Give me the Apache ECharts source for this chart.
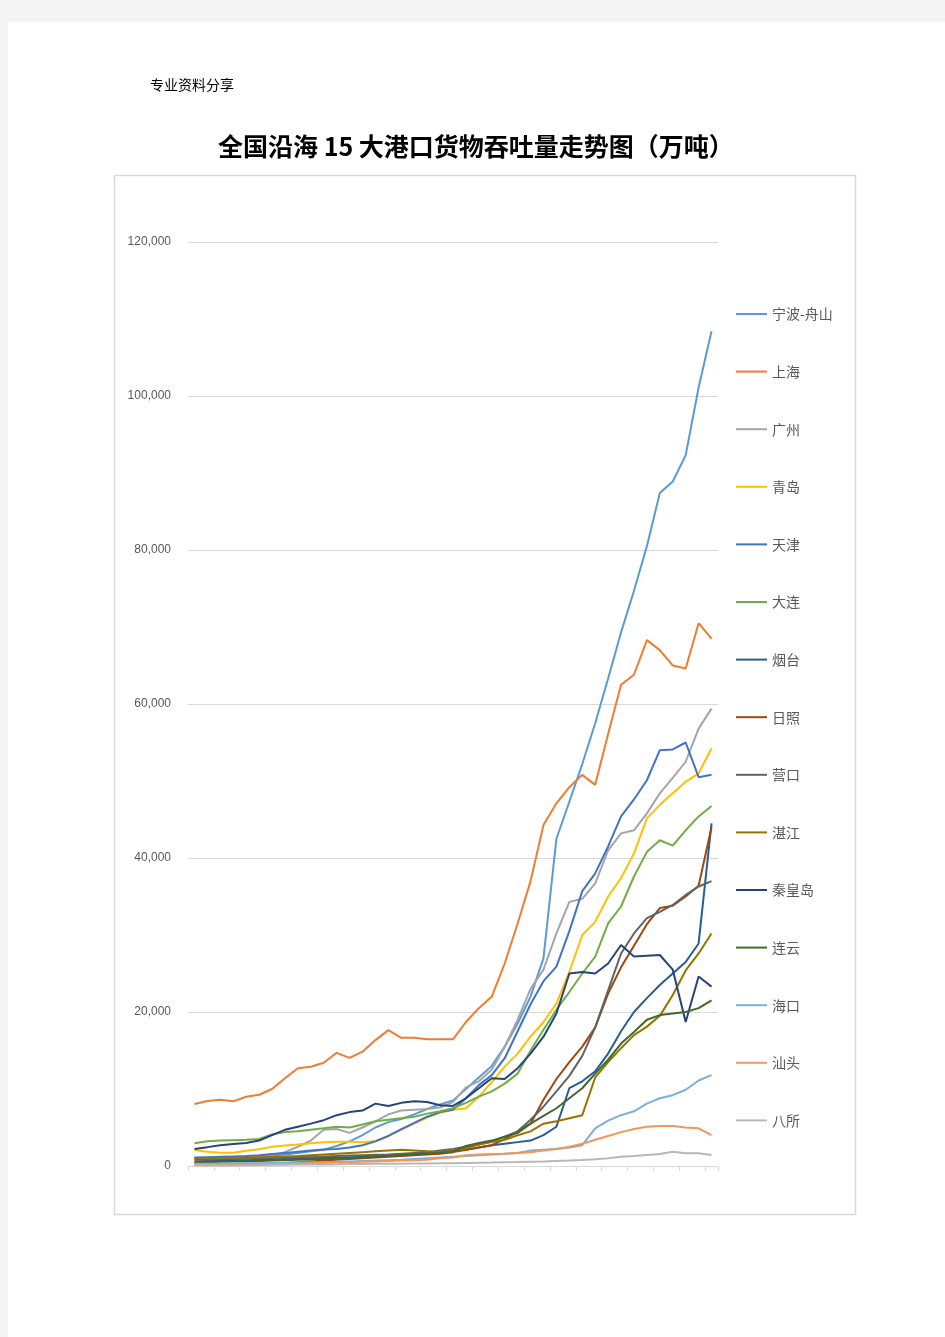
<!DOCTYPE html>
<html>
<head>
<meta charset="utf-8">
<script src="https://cdn.jsdelivr.net/npm/echarts@6/dist/echarts.min.js"></script>
<style>
html,body{margin:0;padding:0;background:#f4f4f4;}
#page{position:absolute;left:0;top:0;width:945px;height:1337px;}
</style>
</head>
<body>
<div id="page"></div>
<script>
// ---- data ----
const years = [];
for (let y = 1978; y <= 2018; y++) years.push(String(y));

const seriesNames = ['宁波-舟山','上海','广州','青岛','天津','大连','烟台','日照','营口','湛江','秦皇岛','连云','海口','汕头','八所'];
const seriesColors = ['#5B9BD5','#ED7D31','#A5A5A5','#FFC000','#4472C4','#70AD47','#255E91','#9E480E','#636363','#997300','#264478','#43682B','#7CAFDD','#F1975A','#B7B7B7'];

const ningbo = [1000,1050,1100,1150,1200,1300,1400,1500,1700,1900,2100,2600,3200,4000,5000,5700,6100,6700,7400,8000,8500,10000,11500,13000,15500,18500,22000,27000,42500,47300,52200,57500,63300,69300,74700,80500,87400,88900,92300,101100,108400];
const shanghai = [8050,8450,8600,8400,9000,9250,10000,11400,12700,12900,13400,14700,14050,14850,16350,17650,16650,16650,16450,16450,16450,18700,20500,22000,26300,31500,37000,44300,47100,49200,50800,49500,56100,62500,63800,68300,67000,65000,64600,70500,68500];
const guangzhou = [1000,1000,1050,1100,1150,1200,1400,1800,2500,3300,4700,4800,4300,5000,5800,6700,7200,7300,7400,7600,8300,10200,11000,12500,15500,19000,23000,25500,30200,34300,34700,36700,41000,43200,43600,45800,48400,50400,52500,56800,59400];
const qingdao = [2080,1860,1730,1730,1990,2170,2500,2650,2800,2950,3100,3150,3150,3100,3250,3900,4700,5500,6300,6900,7300,7500,9000,10900,12900,14600,16800,18700,21100,25200,30000,31700,35000,37400,40600,45150,46900,48400,49900,51000,54250];
const tianjin = [1100,1150,1200,1250,1300,1400,1550,1700,1850,2000,2150,2200,2400,2700,3200,3900,4800,5600,6400,7000,7300,8800,10500,11800,14000,17500,21000,24000,25900,30500,35700,38000,41500,45400,47600,50100,54000,54100,55000,50500,50800];
const dalian = [2950,3200,3300,3350,3400,3500,4100,4400,4500,4700,4900,5100,5000,5400,5800,6000,6200,6400,6800,7100,7500,8200,9000,9700,10700,12000,15000,17700,20300,22600,25000,27200,31500,33700,37600,40800,42300,41600,43600,45400,46750];
const yantai = [600,650,700,700,750,800,850,900,950,1000,1050,1100,1150,1200,1300,1400,1500,1600,1700,1800,1900,2100,2400,2700,2900,3100,3300,4000,5100,10100,11000,12300,14600,17500,20000,21800,23500,25000,26500,28900,44500];
const rizhao = [200,200,200,200,250,300,350,400,500,600,700,800,900,1000,1100,1200,1300,1400,1500,1600,1800,2100,2400,2700,3500,4500,5500,8600,11300,13500,15500,18000,22400,25800,28600,31400,33500,33800,35000,36400,44000];
const yingkou = [800,850,900,900,950,1000,1050,1100,1150,1200,1250,1300,1350,1400,1450,1500,1600,1700,1800,2000,2200,2500,2800,3200,3800,4500,6000,7700,9700,11700,14300,18000,22800,27600,30200,32200,33000,33900,35200,36300,37000];
const zhanjiang = [1000,1000,1050,1050,1100,1150,1200,1250,1300,1400,1500,1600,1700,1800,1900,2000,2100,2000,1900,1800,2000,2300,2800,3100,3400,4000,4500,5500,5800,6200,6600,11500,13500,15300,17000,18100,19500,22200,25400,27600,30200];
const qinhuangdao = [2210,2450,2700,2850,3000,3300,4000,4700,5100,5500,5950,6600,7000,7200,8100,7800,8200,8400,8300,7900,7800,8800,10100,11400,11300,12700,14600,16800,19800,25000,25200,25000,26300,28700,27200,27300,27400,25500,18700,24600,23300];
const lianyun = [500,500,550,600,600,650,700,750,800,850,900,950,1000,1100,1200,1300,1400,1500,1600,1700,1900,2600,3000,3300,3800,4300,5500,6500,7500,8800,10100,12000,13800,15900,17400,19000,19600,19800,20000,20500,21500];
const haikou = [300,300,300,300,350,350,400,400,450,500,500,550,600,650,700,750,800,900,1000,1100,1200,1300,1400,1500,1600,1700,2000,2100,2200,2400,2700,4900,5900,6600,7100,8100,8800,9200,9900,11100,11800];
const shantou = [100,100,100,100,120,150,200,250,300,350,400,450,500,550,600,650,700,750,800,1000,1100,1400,1500,1550,1600,1700,1800,2000,2200,2500,2900,3400,3900,4400,4800,5100,5200,5200,5000,4900,4000];
const basuo = [100,100,100,100,100,120,150,150,180,200,200,220,250,250,280,300,300,320,330,350,350,400,420,450,500,520,560,600,650,700,780,870,1000,1200,1300,1430,1560,1860,1650,1650,1430];

const yTicks = [0,20000,40000,60000,80000,100000,120000];

const allData = [ningbo,shanghai,guangzhou,qingdao,tianjin,dalian,yantai,rizhao,yingkou,zhanjiang,qinhuangdao,lianyun,haikou,shantou,basuo];

// ---- chart ----
const chart = echarts.init(document.getElementById('page'), null, {renderer:'canvas', width:945, height:1337});
const series = seriesNames.map((n,i)=>({
  name:n, type:'line', data:allData[i], symbol:'none', showSymbol:false, smooth:false,
  lineStyle:{width:2, color:seriesColors[i]}, itemStyle:{color:seriesColors[i]},
  emphasis:{disabled:true}, z:2+i
}));

chart.setOption({
  backgroundColor:'#f4f4f4',
  animation:false,
  graphic:[
    {type:'rect', z:-10, shape:{x:8,y:22,width:937,height:1315}, style:{fill:'#ffffff'}},
    {type:'rect', z:-9, shape:{x:114.5,y:175.5,width:741,height:1039}, style:{fill:'#ffffff', stroke:'#d9d9d9', lineWidth:1.5}},
    {type:'text', left:150, top:78, style:{text:'专业资料分享', fill:'#000000', font:'14px "Noto Sans CJK SC"'}},
    {type:'text', left:218, top:134, style:{text:'全国沿海 15 大港口货物吞吐量走势图（万吨）', fill:'#000000', font:'bold 25px "Noto Sans CJK SC"'}}
  ],
  grid:{left:188, right:227, top:242, bottom:171, containLabel:false},
  legend:{
    orient:'vertical', left:736, top:307, padding:0, itemWidth:31, itemHeight:14, itemGap:43.6,
    icon:'path://M0,6 L31,6 L31,8 L0,8 Z',
    data:seriesNames.map((n,i)=>({name:n, itemStyle:{color:seriesColors[i]}})),
    textStyle:{color:'#595959', fontSize:14, fontFamily:'"Noto Sans CJK SC"'},
    selectedMode:false
  },
  xAxis:{
    type:'category', data:years, boundaryGap:true,
    axisLine:{lineStyle:{color:'#d9d9d9', width:1}},
    axisTick:{show:true, interval:1, length:5, lineStyle:{color:'#d9d9d9'}},
    axisLabel:{show:false}
  },
  yAxis:{
    type:'value', min:0, max:120000, interval:20000,
    axisLine:{show:false}, axisTick:{show:false},
    splitLine:{lineStyle:{color:'#d9d9d9', width:1}},
    axisLabel:{margin:17, color:'#595959', fontSize:12, fontFamily:'"Liberation Sans", Arial',
      formatter:v=>yTicks.includes(v)? v.toLocaleString('en-US') : ''}
  },
  series:series
});
</script>
</body>
</html>
